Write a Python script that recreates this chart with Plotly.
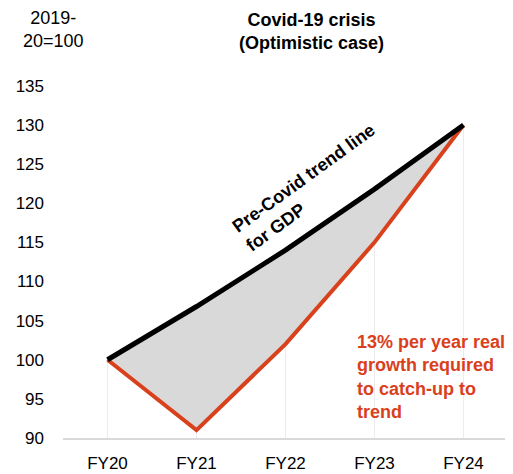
import plotly.graph_objects as go

categories = ["FY20", "FY21", "FY22", "FY23", "FY24"]
trend = [100, 106.8, 114.0, 121.8, 130]
covid = [100, 91, 102, 115, 130]
yticks = [90, 95, 100, 105, 110, 115, 120, 125, 130, 135]

RED = "#d9401c"
FONT = "Liberation Sans, Arial, sans-serif"

# page body has an 8px margin; figure placed at (8,8)
W, H = 505, 466
ML, MR, MT, MB = 55, 5, 70, 36
PW, PH = W - ML - MR, H - MT - MB


def paper_xy(px, py):
    # px, py: target screen pixel coordinates (in the 513x474 window)
    return (px - 8 - ML) / PW, 1 - (py - 8 - MT) / PH


fig = go.Figure()
for i, c in enumerate(categories):
    fig.add_shape(type="line", x0=c, x1=c, y0=90, y1=covid[i], xref="x", yref="y",
                  line=dict(color="#ececec", width=1), layer="below")
fig.add_trace(go.Scatter(x=categories, y=covid, mode="lines",
                         line=dict(color=RED, width=4), hoverinfo="skip"))
fig.add_trace(go.Scatter(x=categories, y=trend, mode="lines",
                         line=dict(color="black", width=5),
                         fill="tonexty", fillcolor="#d9d9d9", hoverinfo="skip"))

fig.update_layout(
    width=W, height=H,
    margin=dict(l=ML, r=MR, t=MT, b=MB),
    plot_bgcolor="white", paper_bgcolor="white",
    showlegend=False,
    font=dict(family=FONT, size=17, color="black"),
    xaxis=dict(type="category", range=[-0.5, 4.5], showgrid=False,
               showline=True, linecolor="#d9d9d9", linewidth=2, ticks="",
               ticklabelstandoff=9, tickfont=dict(size=17), fixedrange=True,
               automargin=False),
    yaxis=dict(range=[90, 136], tickvals=yticks, showgrid=False,
               zeroline=False, showline=False, ticks="",
               ticklabelstandoff=18, tickfont=dict(size=17), fixedrange=True,
               automargin=False),
)

x, y = paper_xy(53, 29)
fig.add_annotation(x=x, y=y, xref="paper", yref="paper", xanchor="center", yanchor="middle",
                   text="2019-<br>20=100", showarrow=False,
                   font=dict(size=18, color="black"), align="center")
x, y = paper_xy(311, 31)
fig.add_annotation(x=x, y=y, xref="paper", yref="paper", xanchor="center", yanchor="middle",
                   text="<b>Covid-19 crisis<br>(Optimistic case)</b>", showarrow=False,
                   font=dict(size=18, color="black"), align="center")

fig.add_annotation(x=2.28, y=122.0, xref="x", yref="y",
                   text="<b>Pre-Covid trend line<br>for GDP</b>",
                   showarrow=False, textangle=-36, font=dict(size=18, color="black"),
                   align="left")
fig.add_annotation(x=2.78, y=97.8, xref="x", yref="y", xanchor="left", yanchor="middle",
                   text="<b>13% per year real<br>growth required<br>to catch-up to<br>trend</b>",
                   showarrow=False, font=dict(size=18, color=RED), align="left")

fig.write_html("out.html")
